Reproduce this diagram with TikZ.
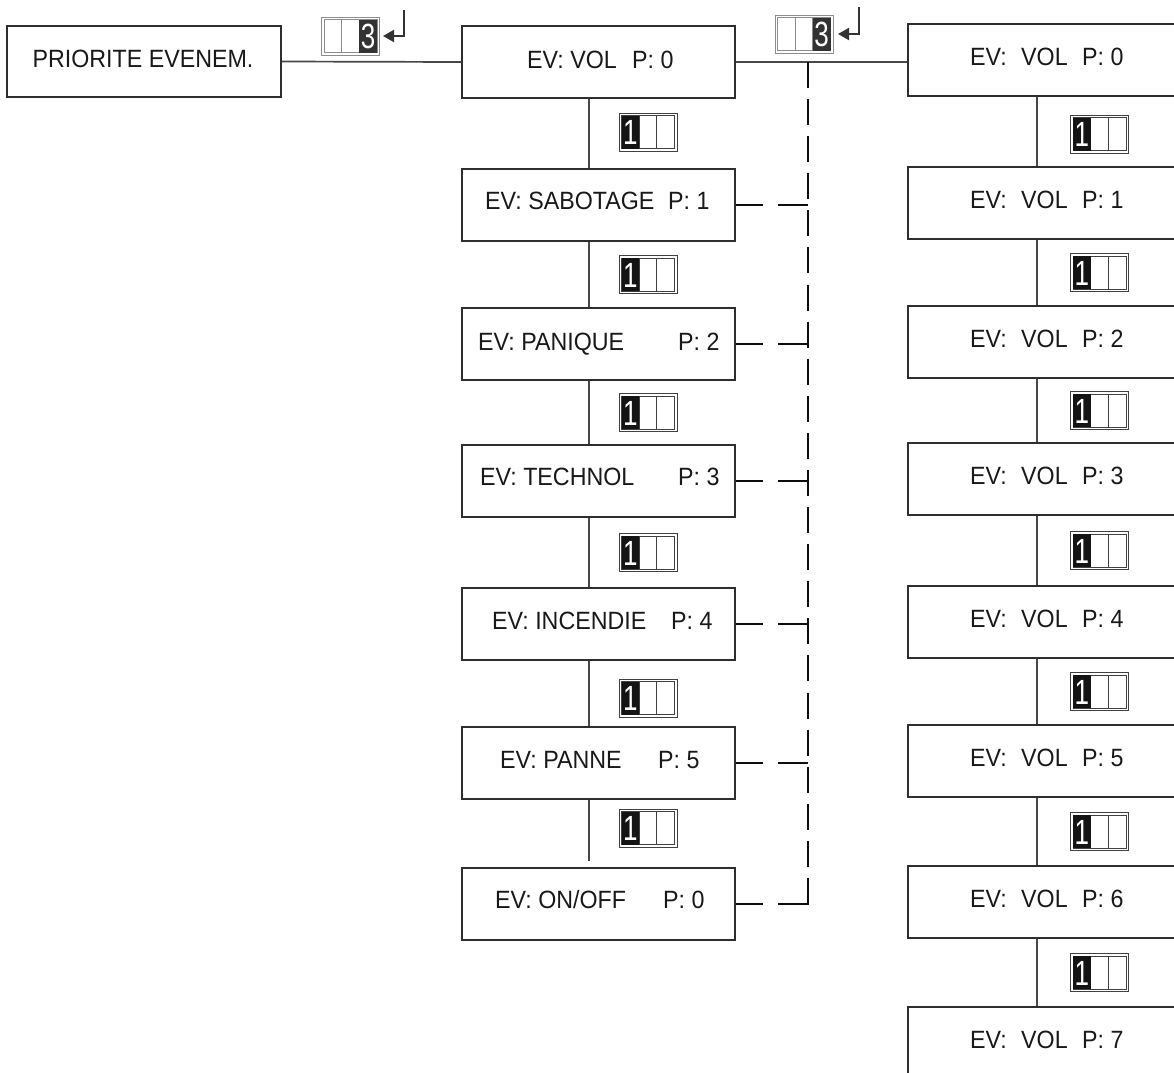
\documentclass[tikz,border=0pt]{standalone}
\usepackage{fontspec}
\setmainfont[FakeStretch=0.93]{Liberation Sans}
\usetikzlibrary{arrows.meta}
\newcommand\keyicon[7]{% name, x, y, frame colour, cell colour, cell centre, digit
  \begin{scope}[shift={(#2,#3)}]
    \node[keyframe=#4] (#1) at (0,0) {};
    \draw[#4, line width=0.8pt] (-26.5,-16.5) rectangle (26.5,16.5);
    \draw[#4, line width=0.8pt] (-8.83,-16.5) -- (-8.83,16.5) (8.83,-16.5) -- (8.83,16.5);
    \fill[#5] (#6-8.83,-16.5) rectangle (#6+8.83,16.5);
    \node[digit] (#1-d) at (#6,0.5) {\scalebox{0.8}[1]{#7}};
  \end{scope}}
\begin{document}
\begin{tikzpicture}[x=1pt,y=-1pt,
  box/.style={draw=black!82, line width=1.5pt, minimum width=273pt, minimum height=72pt, inner sep=0pt},
  txt/.style={anchor=base west, inner sep=0pt, font=\fontsize{25}{30}\selectfont, text=black!90},
  conn/.style={draw=black!72, line width=1.7pt},
  dashv/.style={draw=black!95, line width=2.8pt, dash pattern=on 26pt off 11.09pt},
  dashh/.style={draw=black!95, line width=2.8pt, dash pattern=on 27pt off 15pt on 60pt off 1pt},
  keyframe/.style={draw=#1, line width=0.8pt, minimum width=58pt, minimum height=38pt, inner sep=0pt},
  digit/.style={text=white, inner sep=0pt, font=\fontsize{35}{35}\selectfont},
  retarrow/.style={draw=black!80, line width=2pt, -{Triangle[length=11pt,width=12pt]}},
]
\useasboundingbox (0,0) rectangle (1174,1072);
\fill[white] (0,0) rectangle (1174,1072);
\clip (0,0) rectangle (1174,1072);

% left box
\node[box, minimum width=274pt, minimum height=71pt] (L) at (144,61.5) {};
\node[txt, anchor=base] (Lt) at (143,67) {PRIORITE EVENEM.};

% middle column
\foreach \i/\t/\sx/\nm/\px/\p/\bo in {1/26/527/VOL/632/0/6, 2/169/485/SABOTAGE/668/1/4,
  3/308/478/PANIQUE/678/2/6, 4/445/480/TECHNOL/678/3/4, 5/588/492/INCENDIE/671/4/5,
  6/727/500/PANNE/658/5/5, 7/868/495/{ON/OFF}/663/0/4}{
  \node[box] (m\i) at (598.5,\t+36) {};
  \node[txt] (m\i-n) at (\sx,\t+36+\bo) {EV: \nm};
  \node[txt] (m\i-p) at (\px,\t+36+\bo) {P: \p};
}

% right column
\foreach \i/\t/\p in {1/24/0,2/167/1,3/306/2,4/443/3,5/586/4,6/725/5,7/866/6,8/1007/7}{
  \node[box] (r\i) at (1044.5,\t+36) {};
  \node[txt] (r\i-a) at (970,\t+41) {EV:};
  \node[txt] (r\i-b) at (1021,\t+41) {VOL};
  \node[txt] (r\i-c) at (1082,\t+41) {P: \p};
}

% vertical connectors
\foreach \i/\j in {1/2,2/3,3/4,4/5,5/6}{
  \draw[conn] ([xshift=-9.5pt]m\i.south) -- ([xshift=-9.5pt]m\j.north);
}
\draw[conn] ([xshift=-9.5pt]m6.south) -- ([xshift=-9.5pt,yshift=6pt]m7.north);
\foreach \i/\j in {1/2,2/3,3/4,4/5,5/6,6/7,7/8}{
  \draw[conn] ([xshift=-7.5pt]r\i.south) -- ([xshift=-7.5pt]r\j.north);
}

% horizontal connectors
\draw[conn] (L.east) -- (m1.west);
\draw[conn] (m1.east) -- (m1.east -| r1.west);

% dashed bus
\coordinate (dtop) at (808,62);
\coordinate (dbot) at (808,904);
\draw[dashv] (dtop) -- (dbot);
\foreach \i in {2,...,6}{
  \draw[dashh] (m\i.east) -- (m\i.east -| dtop);
}
\draw[dashh, shorten >=-1.4pt] (m7.east) -- (dbot);

% key icons "1"
\foreach \k/\y in {1/132,2/274.5,3/412.5,4/552.5,5/698,6/828}{
  \keyicon{km\k}{648}{\y}{black!75}{black!92}{-17.67}{1}
}
\foreach \k/\y in {1/134,2/272.5,3/410.5,4/550.5,5/691.5,6/831.5,7/972.5}{
  \keyicon{kr\k}{1099.5}{\y}{black!75}{black!92}{-17.67}{1}
}

% key icons "3" with return arrows
\keyicon{k3a}{350.5}{36}{black!45}{black!80}{17.67}{3}
\keyicon{k3b}{804}{34}{black!45}{black!80}{17.67}{3}
\coordinate (a1s) at (404,10);
\coordinate (a1e) at (383,36);
\draw[retarrow] (a1s) |- (a1e);
\coordinate (a2s) at (859,7);
\coordinate (a2e) at (838,34);
\draw[retarrow] (a2s) |- (a2e);
\end{tikzpicture}
\end{document}
